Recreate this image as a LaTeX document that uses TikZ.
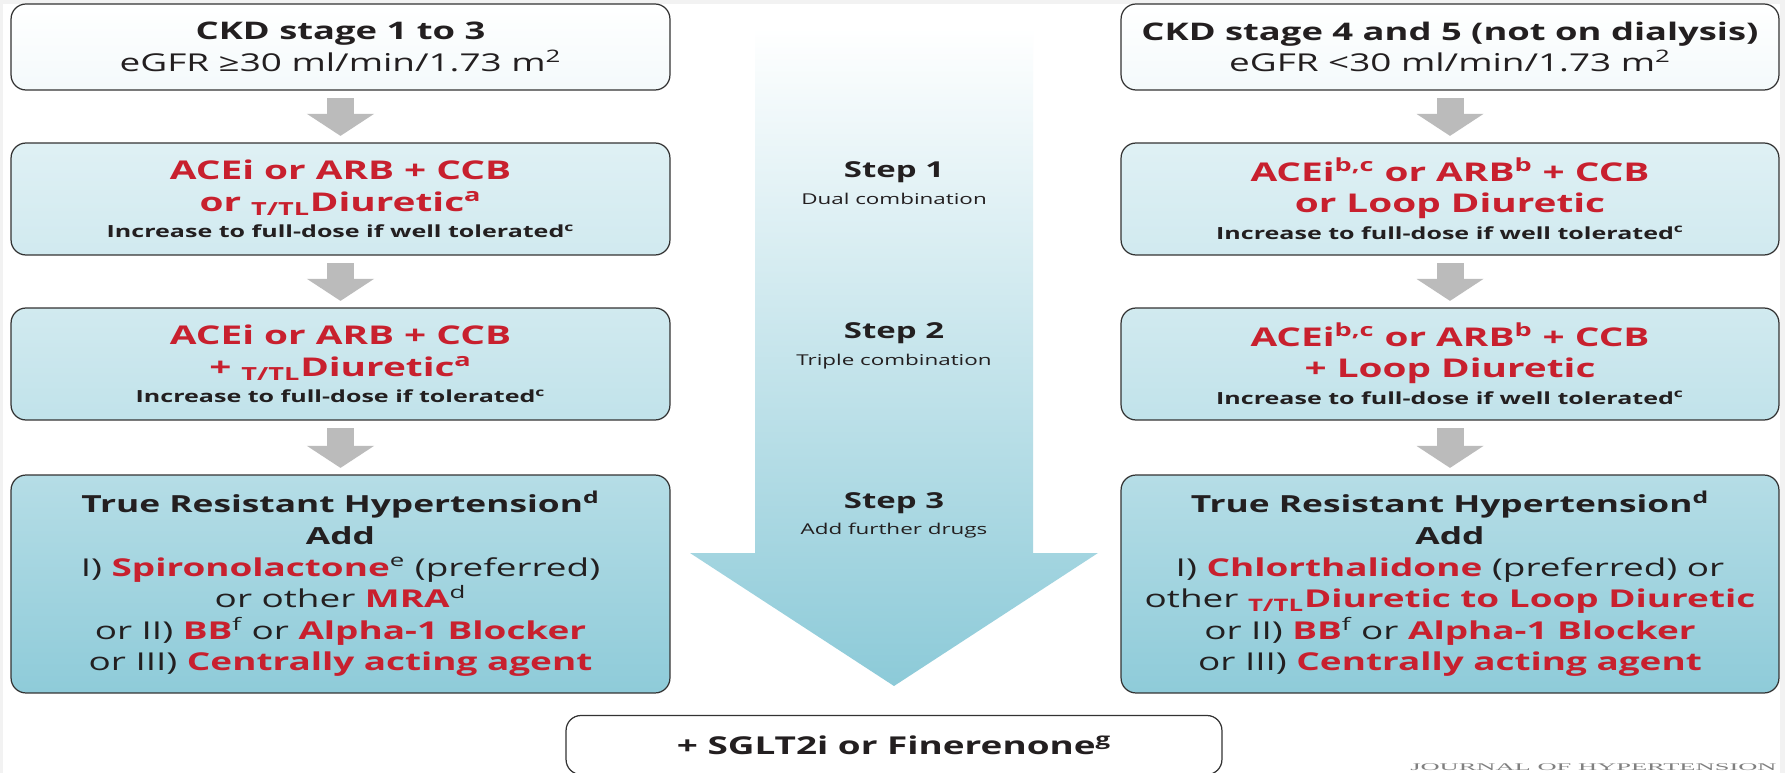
\documentclass[tikz,border=0pt]{standalone}
\usepackage{fontspec}
\setmainfont[FakeStretch=1.5]{Open Sans}
\newfontfamily\jfont[FakeStretch=2.6]{Liberation Serif}
\usetikzlibrary{arrows.meta,positioning,calc}
\definecolor{rxred}{HTML}{C8202E}
\definecolor{ink}{HTML}{231F20}
\definecolor{stepgrey}{HTML}{BBBBBB}
\definecolor{aqua}{HTML}{8CCAD8}
\tikzset{
  >={Triangle[length=4.4mm, width=13.2mm]},
  stage/.style={draw=black!80, line width=0.7pt, rounded corners=8.5pt, align=center, text=ink, inner sep=2pt},
  gstep/.style={->, draw=stepgrey, line width=5.4mm, shorten <=1.5mm, shorten >=1.3mm},
  ttl/.style={font=\fontsize{13.8}{18.1}\selectfont},
  drug/.style={font=\fontsize{14.7}{18}\selectfont\bfseries},
  resist/.style={font=\fontsize{14}{18}\selectfont},
  steplbl/.style={font=\fontsize{12.5}{14}\selectfont\bfseries, text=ink, inner sep=0pt},
  stepsub/.style={font=\fontsize{8.5}{10}\selectfont, text=ink, inner sep=0pt},
}
\newcommand{\rx}[1]{\textcolor{rxred}{\bfseries #1}}
\newcommand{\ttl}{\textsubscript{T/TL}}
\newcommand{\hintfont}{\fontsize{9.5}{18}\selectfont}
\newcommand{\gfrfont}{\fontsize{14}{18.1}\selectfont}
\newcommand{\headfont}{\fontsize{13.4}{18}\selectfont\bfseries}

\begin{document}
\begin{tikzpicture}[x=0.02cm, y=-0.02cm]
  \fill[black!5] (0,0) rectangle (1785,773);
  \useasboundingbox[fill=white] (3,4) rectangle (1780,773);
  % central step arrow
  \shade[top color=white, bottom color=aqua] (755,28) -- (1033,28) -- (1033,553) -- (1098,553)
    -- (894,686) -- (690,553) -- (755,553) -- cycle;
  \foreach \s/\t/\y in {1/Dual combination/178, 2/Triple combination/339, 3/Add further drugs/508} {
    \node[steplbl, anchor=base] (step\s) at (894,\y) {Step \s};
    \node[stepsub, anchor=base] (sub\s) at ([yshift=-0.54cm]step\s.base) {\t};
  }

  % left column: CKD 1-3
  \node[stage, ttl, minimum width=13.18cm, minimum height=1.72cm, top color=white, bottom color=aqua!10] (l1) at (340.5,47)
    {\bfseries CKD stage 1 to 3\\ {\gfrfont eGFR ≥30 ml/min/1.73 m\textsuperscript{2}}};
  \node[stage, drug, minimum width=13.18cm, minimum height=2.24cm, top color=aqua!28, bottom color=aqua!40] (l2) at (340.5,199)
    {\rx{ACEi or ARB + CCB}\\ \rx{or \ttl Diuretic\textsuperscript{a}}\\[-2.7pt]
     {\hintfont Increase to full-dose if well tolerated\textsuperscript{c}}};
  \node[stage, drug, minimum width=13.18cm, minimum height=2.24cm, top color=aqua!40, bottom color=aqua!54] (l3) at (340.5,364)
    {\rx{ACEi or ARB + CCB}\\ \rx{+ \ttl Diuretic\textsuperscript{a}}\\[-2.7pt]
     {\hintfont Increase to full-dose if tolerated\textsuperscript{c}}};
  \node[stage, resist, minimum width=13.18cm, minimum height=4.36cm, top color=aqua!64, bottom color=aqua!98] (l4) at (340.5,584)
    {{\headfont True Resistant Hypertension\textsuperscript{d}}\\ {\headfont Add}\\
     I) \rx{Spironolactone}\textsuperscript{e} (preferred)\\
     or other \rx{MRA}\textsuperscript{d}\\
     or II) \rx{BB}\textsuperscript{f} or \rx{Alpha-1 Blocker}\\
     or III) \rx{Centrally acting agent}};

  % right column: CKD 4-5
  \node[stage, ttl, minimum width=13.16cm, minimum height=1.72cm, top color=white, bottom color=aqua!10] (r1) at (1450,47)
    {\bfseries CKD stage 4 and 5 (not on dialysis)\\ {\gfrfont eGFR <30 ml/min/1.73 m\textsuperscript{2}}};
  \node[stage, drug, minimum width=13.16cm, minimum height=2.24cm, top color=aqua!28, bottom color=aqua!40] (r2) at (1450,199)
    {\rx{ACEi\textsuperscript{b,c} or ARB\textsuperscript{b} + CCB}\\ \rx{or Loop Diuretic}\\[-2.7pt]
     {\hintfont Increase to full-dose if well tolerated\textsuperscript{c}}};
  \node[stage, drug, minimum width=13.16cm, minimum height=2.24cm, top color=aqua!40, bottom color=aqua!54] (r3) at (1450,364)
    {\rx{ACEi\textsuperscript{b,c} or ARB\textsuperscript{b} + CCB}\\ \rx{+ Loop Diuretic}\\[-2.7pt]
     {\hintfont Increase to full-dose if well tolerated\textsuperscript{c}}};
  \node[stage, resist, minimum width=13.16cm, minimum height=4.36cm, top color=aqua!64, bottom color=aqua!98] (r4) at (1450,584)
    {{\headfont True Resistant Hypertension\textsuperscript{d}}\\ {\headfont Add}\\
     I) \rx{Chlorthalidone} (preferred) or\\
     other \rx{\ttl Diuretic to Loop Diuretic}\\
     or II) \rx{BB}\textsuperscript{f} or \rx{Alpha-1 Blocker}\\
     or III) \rx{Centrally acting agent}};

  % bottom add-on
  \node[stage, minimum width=13.12cm, minimum height=1.18cm, fill=white, font=\fontsize{14}{17}\selectfont\bfseries] (addon) at (894,745)
    {+ SGLT2i or Finerenone\textsuperscript{g}};
  \node[anchor=base east, text=black!50, font=\jfont\fontsize{5.8}{7}\selectfont, inner sep=0pt] (journal) at (1777,770) {JOURNAL OF HYPERTENSION};

  % grey step arrows
  \foreach \c in {l,r} {
    \draw[gstep] (\c1) -- (\c2);
    \draw[gstep] (\c2) -- (\c3);
    \draw[gstep] (\c3) -- (\c4);
  }
\end{tikzpicture}
\end{document}
